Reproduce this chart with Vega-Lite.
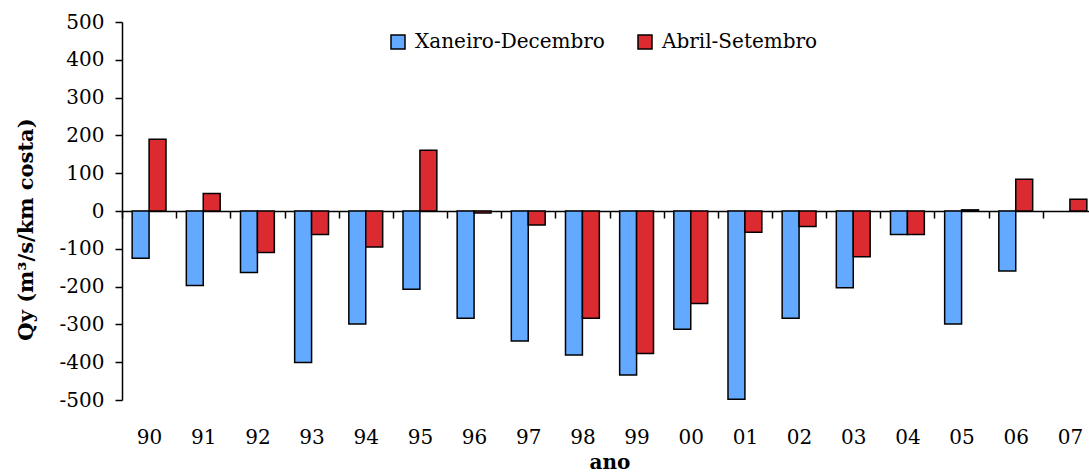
{
  "$schema": "https://vega.github.io/schema/vega-lite/v6.json",
  "width": 975,
  "height": 378,
  "autosize": "none",
  "padding": {"left": 122, "top": 22, "right": 0, "bottom": 74},
  "background": "white",
  "config": {"view": {"stroke": null}, "font": "DejaVu Serif"},
  "data": {
    "values": [
      {"ano": "90", "serie": "Xaneiro-Decembro", "qy": -125},
      {"ano": "90", "serie": "Abril-Setembro", "qy": 190},
      {"ano": "91", "serie": "Xaneiro-Decembro", "qy": -197},
      {"ano": "91", "serie": "Abril-Setembro", "qy": 46},
      {"ano": "92", "serie": "Xaneiro-Decembro", "qy": -163},
      {"ano": "92", "serie": "Abril-Setembro", "qy": -110},
      {"ano": "93", "serie": "Xaneiro-Decembro", "qy": -401},
      {"ano": "93", "serie": "Abril-Setembro", "qy": -62},
      {"ano": "94", "serie": "Xaneiro-Decembro", "qy": -299},
      {"ano": "94", "serie": "Abril-Setembro", "qy": -95},
      {"ano": "95", "serie": "Xaneiro-Decembro", "qy": -207},
      {"ano": "95", "serie": "Abril-Setembro", "qy": 161},
      {"ano": "96", "serie": "Xaneiro-Decembro", "qy": -284},
      {"ano": "96", "serie": "Abril-Setembro", "qy": -5},
      {"ano": "97", "serie": "Xaneiro-Decembro", "qy": -344},
      {"ano": "97", "serie": "Abril-Setembro", "qy": -37},
      {"ano": "98", "serie": "Xaneiro-Decembro", "qy": -381},
      {"ano": "98", "serie": "Abril-Setembro", "qy": -284},
      {"ano": "99", "serie": "Xaneiro-Decembro", "qy": -434},
      {"ano": "99", "serie": "Abril-Setembro", "qy": -377},
      {"ano": "00", "serie": "Xaneiro-Decembro", "qy": -313},
      {"ano": "00", "serie": "Abril-Setembro", "qy": -245},
      {"ano": "01", "serie": "Xaneiro-Decembro", "qy": -498},
      {"ano": "01", "serie": "Abril-Setembro", "qy": -56},
      {"ano": "02", "serie": "Xaneiro-Decembro", "qy": -284},
      {"ano": "02", "serie": "Abril-Setembro", "qy": -41},
      {"ano": "03", "serie": "Xaneiro-Decembro", "qy": -203},
      {"ano": "03", "serie": "Abril-Setembro", "qy": -121},
      {"ano": "04", "serie": "Xaneiro-Decembro", "qy": -62},
      {"ano": "04", "serie": "Abril-Setembro", "qy": -62},
      {"ano": "05", "serie": "Xaneiro-Decembro", "qy": -299},
      {"ano": "05", "serie": "Abril-Setembro", "qy": 3},
      {"ano": "06", "serie": "Xaneiro-Decembro", "qy": -159},
      {"ano": "06", "serie": "Abril-Setembro", "qy": 84},
      {"ano": "07", "serie": "Abril-Setembro", "qy": 31}
    ]
  },
  "mark": {"type": "bar", "stroke": "black", "strokeWidth": 1.5},
  "encoding": {
    "x": {
      "field": "ano",
      "type": "nominal",
      "sort": ["90","91","92","93","94","95","96","97","98","99","00","01","02","03","04","05","06","07"],
      "scale": {"paddingInner": 0, "paddingOuter": 0},
      "axis": {
        "title": "ano",
        "orient": "bottom",
        "offset": -189,
        "domainColor": "#000",
        "domainWidth": 1.5,
        "tickBand": "extent",
        "tickSize": 7,
        "tickColor": "#000",
        "tickWidth": 1.5,
        "labelAngle": 0,
        "labelPadding": 209,
        "labelFontSize": 20,
        "labelColor": "#000",
        "titleFontSize": 20,
        "titleFontWeight": "bold",
        "titleColor": "#000",
        "titleY": 257,
        "titleBaseline": "alphabetic"
      }
    },
    "xOffset": {
      "field": "serie",
      "type": "nominal",
      "sort": ["Xaneiro-Decembro", "Abril-Setembro"],
      "scale": {"paddingInner": 0, "paddingOuter": 0.6}
    },
    "y": {
      "field": "qy",
      "type": "quantitative",
      "scale": {"domain": [-500, 500], "nice": false},
      "axis": {
        "title": "Qy (m³/s/km costa)",
        "values": [-500, -400, -300, -200, -100, 0, 100, 200, 300, 400, 500],
        "labelExpr": "toString(datum.value)",
        "grid": false,
        "domainColor": "#000",
        "domainWidth": 1.5,
        "tickColor": "#000",
        "tickSize": 7,
        "tickWidth": 1.5,
        "labelFontSize": 20,
        "labelColor": "#000",
        "labelPadding": 11,
        "titleFontSize": 21,
        "titleFontWeight": "bold",
        "titleColor": "#000",
        "titleX": -96,
        "titleY": 207,
        "titleAlign": "center",
        "titleBaseline": "middle",
        "titleAngle": 270
      }
    },
    "color": {
      "field": "serie",
      "type": "nominal",
      "sort": ["Xaneiro-Decembro", "Abril-Setembro"],
      "scale": {"domain": ["Xaneiro-Decembro", "Abril-Setembro"], "range": ["#62a9ff", "#dc2a31"]},
      "legend": {
        "title": null,
        "orient": "none",
        "legendX": 266,
        "legendY": 10,
        "direction": "horizontal",
        "symbolType": "square",
        "symbolSize": 196,
        "symbolStrokeColor": "#000",
        "symbolStrokeWidth": 1.5,
        "symbolOpacity": 1,
        "labelFontSize": 20,
        "labelColor": "#000",
        "labelOffset": 7,
        "columnPadding": 30,
        "padding": 0,
        "labelLimit": 400
      }
    }
  }
}
